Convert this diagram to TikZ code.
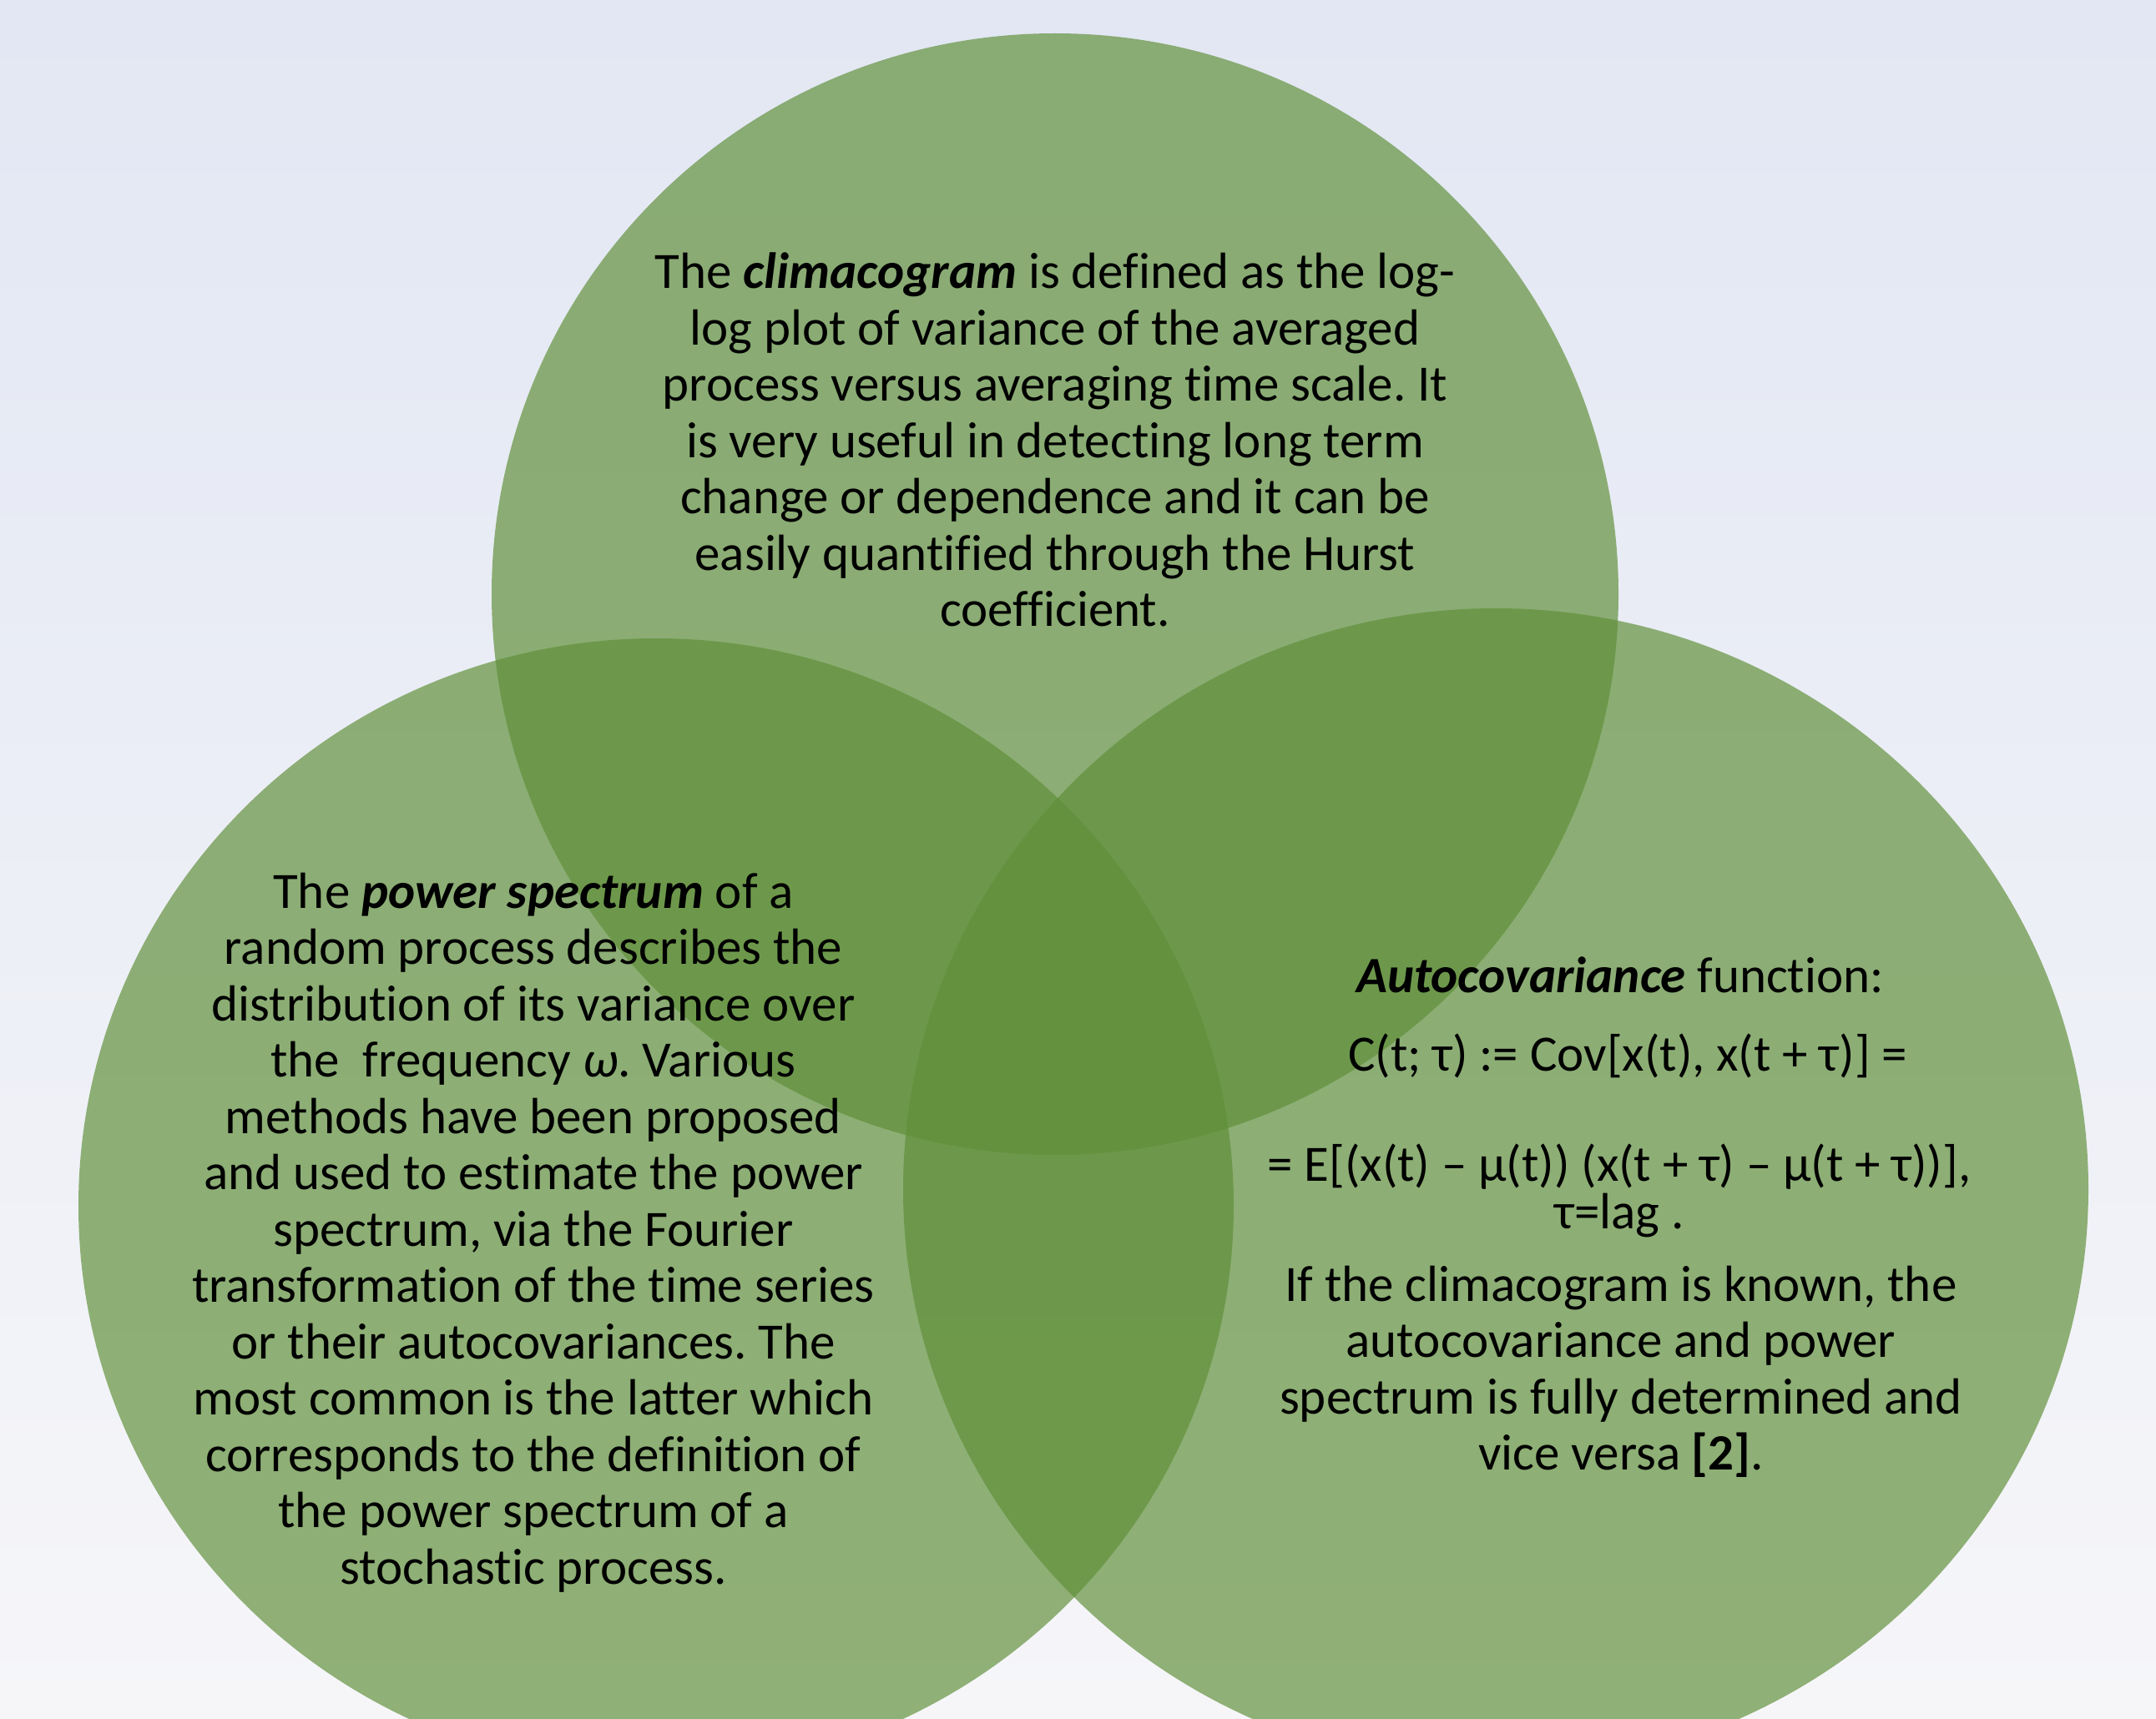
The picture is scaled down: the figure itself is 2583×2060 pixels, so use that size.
\documentclass[tikz,border=0pt]{standalone}
\usepackage{fontspec}
\setmainfont{Carlito}[Ligatures=NoCommon]
\usepackage{tikz}
\usetikzlibrary{shapes,positioning}
\frenchspacing

\definecolor{venngreen}{RGB}{95,143,56}
\definecolor{bgtop}{RGB}{226,231,243}
\definecolor{bgmid}{RGB}{230,235,245}
\definecolor{bgbot}{RGB}{246,246,249}

\tikzset{
    venn/.style={ellipse, inner sep=0pt, fill=venngreen, fill opacity=0.68},
    blurb/.style={align=center, text=black, inner sep=0pt, font=\fontsize{61}{67.5}\selectfont},
}

\begin{document}
\begin{tikzpicture}[x=1pt,y=-1pt]
    \useasboundingbox (0,0) rectangle (2583,2060);
    \shade[top color=bgtop, middle color=bgmid, bottom color=bgbot] (0,0) rectangle (2583,2060);

    \node[venn, minimum width=1350pt, minimum height=1344pt] (clima) at (1264,712) {};
    \node[venn, minimum width=1384pt, minimum height=1360pt] (spec) at (786,1445) {};
    \node[venn, minimum width=1420pt, minimum height=1392pt] (acov) at (1792,1425) {};

    \node[blurb] (climatext) at (1264,527) {The \textbf{\textit{climacogram}} is defined as the log-\\
        log plot of variance of the averaged\\
        process versus averaging time scale. It\\
        is very useful in detecting long term\\
        change or dependence and it can be\\
        easily quantified through the Hurst\\
        coefficient.};

    \node[blurb] (spectext) at (639,1477) {The \textbf{\textit{power spectrum}} of a\\
        random process describes the\\
        distribution of its variance over\\
        the\ \ frequency \textit{ω}. Various\\
        methods have been proposed\\
        and used to estimate the power\\
        spectrum, via the Fourier\\
        transformation of the time series\\
        or their autocovariances. The\\
        most common is the latter which\\
        corresponds to the definition of\\
        the power spectrum of a\\
        stochastic process.};

    \node[blurb] (acovhead) at (1941,1168) {\textbf{\textit{Autocovariance}} function:};
    \node[blurb] (acovdef) at (1950,1265) {C(t; τ) := Cov[x(t), x(t + τ)] =};
    \node[blurb, font=\fontsize{61}{57}\selectfont] (acovexp) at (1940,1427) {= E[(x(t) – μ(t)) (x(t + τ) – μ(t + τ))],\\
        τ=lag .};
    \node[blurb] (acovnote) at (1942,1644) {If the climacogram is known, the\\
        autocovariance and power\\
        spectrum is fully determined and\\
        vice versa \textbf{[2]}.};
\end{tikzpicture}
\end{document}
